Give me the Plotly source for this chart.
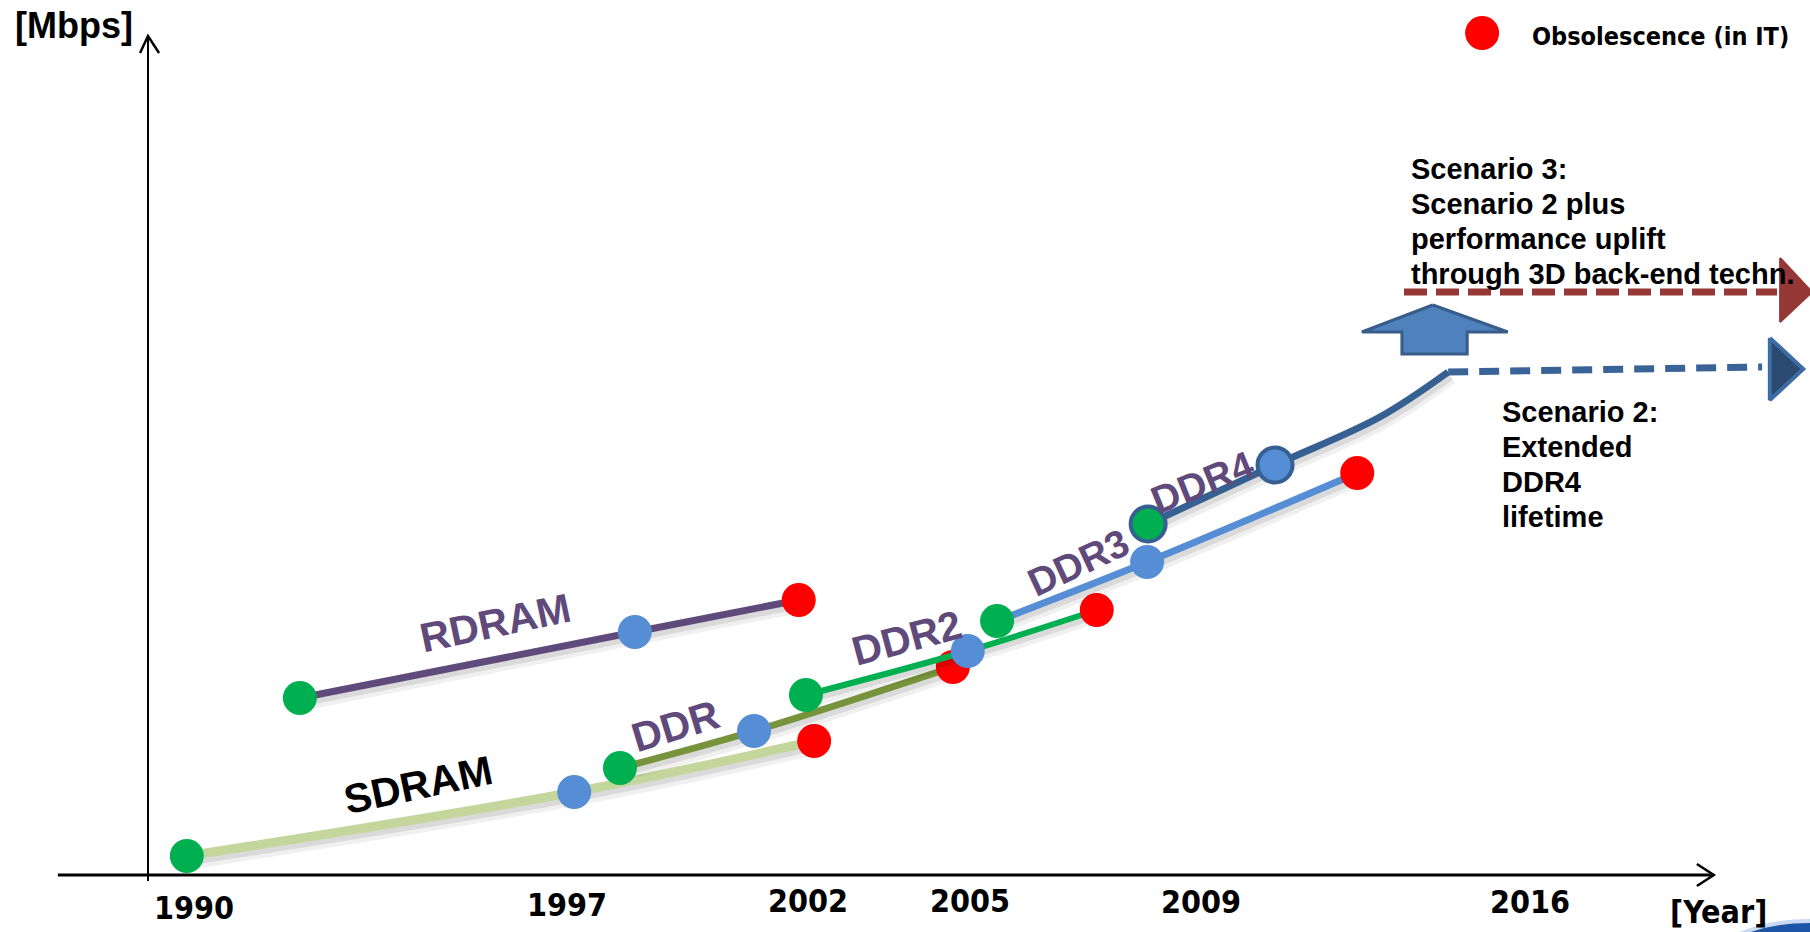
import plotly.graph_objects as go

# ---- memory generations: (year, relative data rate) at introduction, mainstream, obsolescence
SDRAM_YEAR = [1989.86, 1997.40, 2002.07]
SDRAM_RATE = [19, 83, 134]
RDRAM_YEAR = [1992.06, 1998.58, 2001.77]
RDRAM_RATE = [177, 243, 275]
DDR_YEAR = [1998.29, 2000.90, 2004.77]
DDR_RATE = [107, 144, 208]
DDR2_YEAR = [2001.91, 2005.06, 2007.57]
DDR2_RATE = [180, 224, 265]
DDR3_YEAR = [2005.63, 2008.55, 2012.64]
DDR3_RATE = [254, 313, 402]
DDR4_YEAR = [2008.57, 2011.04, 2013.08, 2014.41]
DDR4_RATE = [351, 410, 458, 503]

# ---- outlook scenarios
SCEN2_YEAR = [2014.41, 2020.52]
SCEN2_RATE = [503, 508]
SCEN3_YEAR = [2013.55, 2020.81]
SCEN3_RATE = [583, 583]

# ---- timeline labels
TICK_TEXT = ["1990", "1997", "2002", "2005", "2009", "2016"]
TICK_POS = [1990.0, 1997.26, 2001.95, 2005.10, 2009.60, 2016.0]
TICK_LEVEL = [-33, -30, -26, -26, -27, -27]

W, H = 1810, 932
X0, X1 = 1986.2243, 2021.4519
Y0, Y1 = -57, 875

GREEN, BLUE, RED = "#00b050", "#558ed5", "#ff0000"
PURPLE = "#604a7b"
ARIAL = "Liberation Sans, Arial, sans-serif"
TAHOMA = "DejaVu Sans Condensed, Tahoma, sans-serif"

fig = go.Figure()


def shadow(xs, ys, width):
    # soft drop shadow under each curve
    for dx, dy, extra, alpha in [(0.06, 6, 6, 0.06), (0.04, 4, 2, 0.09)]:
        fig.add_trace(go.Scatter(
            x=[v + dx for v in xs], y=[v - dy for v in ys], mode="lines",
            line=dict(color=f"rgba(0,0,0,{alpha})", width=width + extra, shape="spline"),
            hoverinfo="skip", showlegend=False))


def generation(xs, ys, color, width, n_dots=3, outline=None):
    shadow(xs, ys, width)
    fig.add_trace(go.Scatter(
        x=xs, y=ys, mode="lines",
        line=dict(color=color, width=width, shape="spline"),
        hoverinfo="skip", showlegend=False))
    marker = dict(size=34, color=[GREEN, BLUE, RED][:n_dots], opacity=1)
    if outline:
        marker["line"] = dict(color=outline, width=4)
        marker["size"] = 35
    fig.add_trace(go.Scatter(
        x=xs[:n_dots], y=ys[:n_dots], mode="markers", marker=marker,
        hoverinfo="skip", showlegend=False, cliponaxis=False))


generation(SDRAM_YEAR, SDRAM_RATE, "#c3d69b", 9)
generation(RDRAM_YEAR, RDRAM_RATE, PURPLE, 7)
generation(DDR_YEAR, DDR_RATE, "#77933c", 7)
generation(DDR2_YEAR, DDR2_RATE, GREEN, 6)
generation(DDR3_YEAR, DDR3_RATE, BLUE, 7)
generation(DDR4_YEAR, DDR4_RATE, "#376092", 7, n_dots=2, outline="#376092")

# scenario 2: dashed DDR4 extension
fig.add_trace(go.Scatter(
    x=SCEN2_YEAR, y=SCEN2_RATE, mode="lines",
    line=dict(color="#3a6497", width=7, dash="20px,11px"),
    hoverinfo="skip", showlegend=False))
fig.add_trace(go.Scatter(
    x=[2020.67, 2021.32, 2020.67, 2020.67], y=[537, 506, 475, 537],
    mode="lines", fill="toself", fillcolor="#2b4a70",
    line=dict(color="#3d6ba3", width=4), hoverinfo="skip", showlegend=False))

# scenario 3: dashed uplift line
fig.add_trace(go.Scatter(
    x=SCEN3_YEAR, y=SCEN3_RATE, mode="lines",
    line=dict(color="#953735", width=7, dash="23px,9px"),
    hoverinfo="skip", showlegend=False))
fig.add_trace(go.Scatter(
    x=[2020.87, 2021.49, 2020.87, 2020.87], y=[617, 583, 553, 617],
    mode="lines", fill="toself", fillcolor="#953735",
    line=dict(color="#953735", width=2), hoverinfo="skip", showlegend=False))

# block arrow pointing up between the scenarios
fig.add_trace(go.Scatter(
    x=[2014.11, 2015.57, 2014.78, 2014.78, 2013.51, 2013.51, 2012.73, 2014.11],
    y=[570, 543, 543, 521, 521, 543, 543, 570],
    mode="lines", fill="toself", fillcolor="#4f81bd",
    line=dict(color="#385d8a", width=3), hoverinfo="skip", showlegend=False))

# legend marker
fig.add_trace(go.Scatter(
    x=[2015.07], y=[842], mode="markers", marker=dict(size=34, color=RED),
    hoverinfo="skip", showlegend=False, cliponaxis=False))

# ---- axes with open arrow heads
axis_shapes = [
    dict(type="line", x0=1987.35, x1=2019.58, y0=0, y1=0, line=dict(color="black", width=3)),
    dict(type="path", path="M 2019.25,11 L 2019.58,0 L 2019.25,-11",
         line=dict(color="black", width=2.5)),
    dict(type="line", x0=1989.105, x1=1989.105, y0=-6, y1=839, line=dict(color="black", width=2)),
    dict(type="path", path="M 1988.95,822 L 1989.105,839 L 1989.32,822",
         line=dict(color="black", width=2.5)),
]
for s in axis_shapes:
    s.update(xref="x", yref="y")
    fig.add_shape(**s)

# globe edge in the bottom-right corner
fig.add_shape(type="circle", xref="paper", yref="paper",
              x0=1690 / W, x1=1930 / W, y0=1 - 1060 / H, y1=1 - 921 / H,
              fillcolor="#1d56a6", line=dict(color="#c9dbf2", width=4))


def px(x):
    return x / W


def py(y):
    return 1 - y / H


ann = []

# generation names along the curves
for text, x, y, ang, size, col in [
    ("RDRAM", 1995.86, 252, -12, 41, PURPLE),
    ("SDRAM", 1994.36, 90, -12, 41, "black"),
    ("DDR", 1999.38, 149, -17, 41, PURPLE),
    ("DDR2", 2003.88, 237, -15, 41, PURPLE),
    ("DDR3", 2007.21, 313, -25, 39, PURPLE),
    ("DDR4", 2009.62, 393, -22, 39, PURPLE),
]:
    ann.append(dict(x=x, y=y, xref="x", yref="y", text=f"<b>{text}</b>", textangle=ang,
                    showarrow=False, xanchor="center", yanchor="middle",
                    font=dict(family=ARIAL, size=size, color=col)))

# timeline labels
for t, x, y in zip(TICK_TEXT, TICK_POS, TICK_LEVEL):
    ann.append(dict(x=x, y=y, xref="x", yref="y", text=f"<b>{t}</b>", showarrow=False,
                    xanchor="center", yanchor="middle",
                    font=dict(family=TAHOMA, size=32, color="black")))

ann.append(dict(x=px(1668), y=py(912), xref="paper", yref="paper", text="<b>[Year]</b>",
                showarrow=False, xanchor="left", yanchor="middle",
                font=dict(family=TAHOMA, size=32, color="black")))
ann.append(dict(x=px(13), y=py(25), xref="paper", yref="paper", text="<b>[Mbps]</b>",
                showarrow=False, xanchor="left", yanchor="middle",
                font=dict(family=ARIAL, size=36, color="black")))
ann.append(dict(x=px(1530), y=py(37), xref="paper", yref="paper",
                text="<b>Obsolescence (in IT)</b>", showarrow=False,
                xanchor="left", yanchor="middle",
                font=dict(family=TAHOMA, size=25, color="black")))

scen3 = ["Scenario 3:", "Scenario 2 plus", "performance uplift", "through 3D back-end techn."]
for i, line in enumerate(scen3):
    ann.append(dict(x=px(1409), y=py(169 + 35 * i), xref="paper", yref="paper",
                    text=f"<b>{line}</b>", showarrow=False, xanchor="left", yanchor="middle",
                    font=dict(family=ARIAL, size=29, color="black")))

scen2 = ["Scenario 2:", "Extended", "DDR4", "lifetime"]
for i, line in enumerate(scen2):
    ann.append(dict(x=px(1500), y=py(412 + 35 * i), xref="paper", yref="paper",
                    text=f"<b>{line}</b>", showarrow=False, xanchor="left", yanchor="middle",
                    font=dict(family=ARIAL, size=29, color="black")))

fig.update_layout(
    width=W, height=H, autosize=False,
    margin=dict(l=0, r=0, t=0, b=0),
    paper_bgcolor="white", plot_bgcolor="white",
    xaxis=dict(range=[X0, X1], visible=False, fixedrange=True),
    yaxis=dict(range=[Y0, Y1], visible=False, fixedrange=True),
    annotations=ann,
    showlegend=False,
)

fig.write_html("out.html", config={"displayModeBar": False})
